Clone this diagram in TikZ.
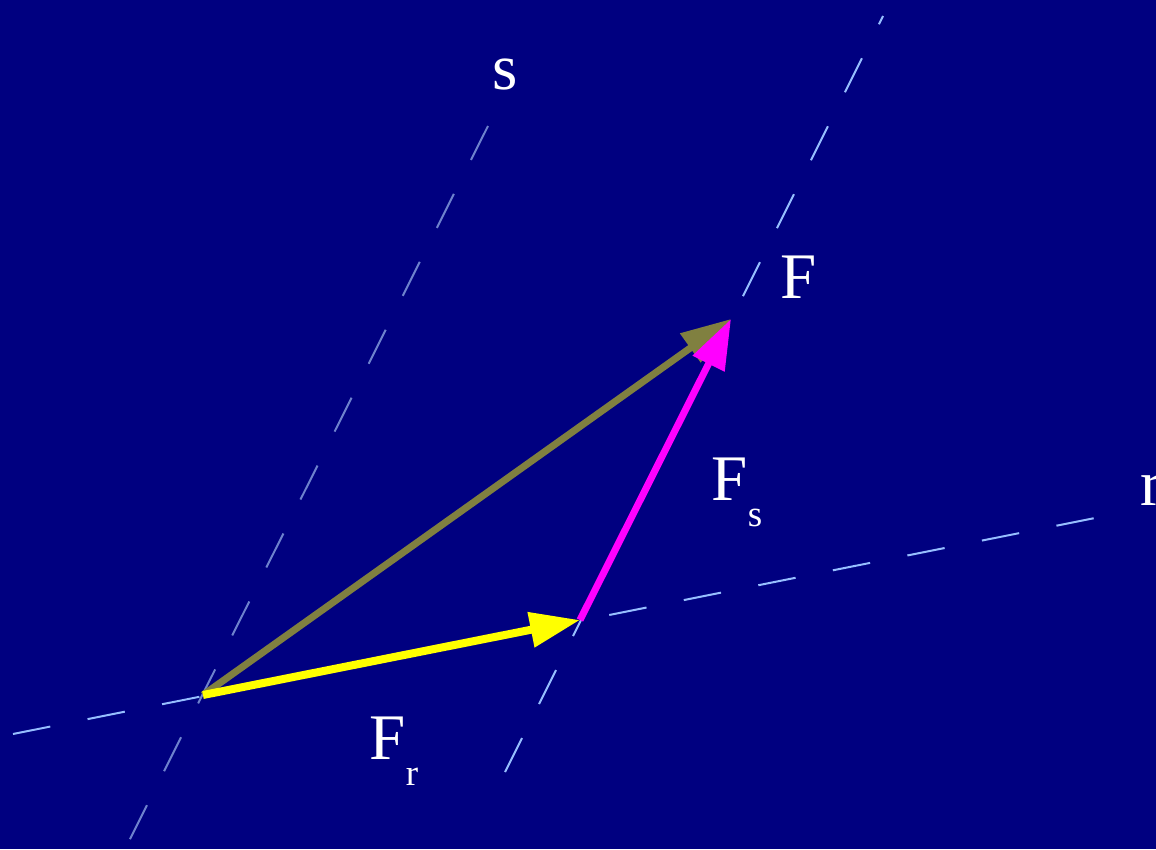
\documentclass[tikz,border=0pt]{standalone}
\usepackage{fontspec}
\setmainfont{Liberation Serif}
\usetikzlibrary{arrows.meta}
\definecolor{navyback}{RGB}{0,0,128}
\definecolor{axislight}{RGB}{150,190,255}
\definecolor{axisgray}{RGB}{110,130,205}
\definecolor{resultolive}{RGB}{128,128,64}
\definecolor{compyellow}{RGB}{255,255,0}
\definecolor{compmagenta}{RGB}{255,0,255}

\begin{document}
\begin{tikzpicture}[x=1pt, y=-1pt,
            axis/.style={line width=2pt, dash pattern=on 38pt off 38pt},
            vec/.style={line width=7pt, -{Triangle[length=50pt, width=34pt]}},
            lbl/.style={text=white, inner sep=0pt, font=\fontsize{65}{70}\selectfont},
            sublbl/.style={text=white, inner sep=0pt, font=\fontsize{37}{40}\selectfont}
        ]
            \fill[navyback] (0,0) rectangle (1156,849);
            \useasboundingbox (0,0) rectangle (1156,849);
            \clip (0,0) rectangle (1156,849);
            % points of the force triangle
            \coordinate (o) at (203,695);
            \coordinate (p) at (580,620);
            \coordinate (q) at (731,319);
            % ends of the axes
            \coordinate (rleft) at (13,734);
            \coordinate (rright) at (1110,515);
            \coordinate (stop) at (488,126);
            \coordinate (sbot) at (125,849);
            \coordinate (ptop) at (883,16);
            \coordinate (pbot) at (505,772);
            \draw[axis, axislight] (rleft) -- (rright);
            \draw[axis, axisgray] (stop) -- (sbot);
            \draw[axis, axislight] (pbot) -- (ptop);
            % vectors
            \draw[vec, resultolive] (o) -- (q);
            \draw[vec, compyellow, line width=8pt] (o) -- (p);
            \draw[vec, compmagenta] (p) -- (q);
            % labels
            \node[lbl] (slbl) at (505,75) {s};
            \node[lbl, anchor=west] (rlbl) at (1140,490) {r};
            \node[lbl] (flbl) at (799,277) {F};
            \node[lbl] (fslbl) at (730,479) {F};
            \node[sublbl] (fssub) at (755,518) {s};
            \node[lbl] (frlbl) at (388,738) {F};
            \node[sublbl] (frsub) at (412,777) {r};
        \end{tikzpicture}
\end{document}
